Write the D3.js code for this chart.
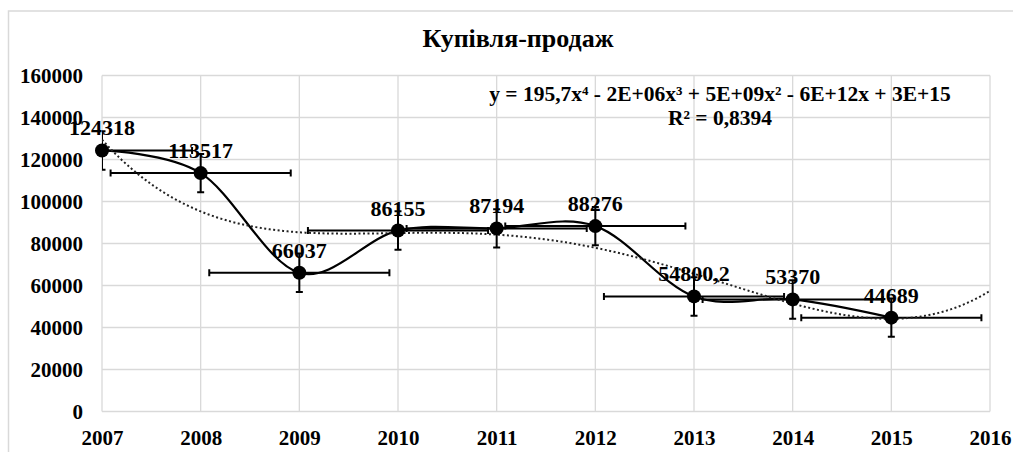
<!DOCTYPE html>
<html>
<head>
<meta charset="utf-8">
<script src="https://cdn.jsdelivr.net/npm/d3@7"></script>
<style>
  body { margin: 0; background: #fff; }
</style>
</head>
<body>
<svg id="chart" width="1013" height="452"></svg>
<script>
// дані з діаграми
const years = [2007, 2008, 2009, 2010, 2011, 2012, 2013, 2014, 2015];
const sales = [124318, 113517, 66037, 86155, 87194, 88276, 54800.2, 53370, 44689];
const pointLabels = ["124318", "113517", "66037", "86155", "87194", "88276", "54800,2", "53370", "44689"];
const yTicks = [0, 20000, 40000, 60000, 80000, 100000, 120000, 140000, 160000];
const xTicks = [2007, 2008, 2009, 2010, 2011, 2012, 2013, 2014, 2015, 2016];
const title = "Купівля-продаж";
const equation = "y = 195,7x⁴ - 2E+06x³ + 5E+09x² - 6E+12x + 3E+15";
const rSquared = "R² = 0,8394";

const serif = "'Liberation Serif', 'Times New Roman', serif";

const svg = d3.select("#chart");
const plot = { left: 102, right: 990, top: 75.5, bottom: 411.5 };

const x = d3.scaleLinear().domain([2007, 2016]).range([plot.left, plot.right]);
const y = d3.scaleLinear().domain([0, 160000]).range([plot.bottom, plot.top]);

// рамка діаграми
svg.append("rect")
  .attr("x", 8.5).attr("y", 11)
  .attr("width", 1030).attr("height", 460)
  .attr("fill", "none").attr("stroke", "#d9d9d9").attr("stroke-width", 1.5);

svg.append("defs").append("clipPath").attr("id", "clip")
  .append("rect")
  .attr("x", plot.left).attr("y", plot.top)
  .attr("width", plot.right - plot.left).attr("height", plot.bottom - plot.top);

// сітка
const grid = svg.append("g");
grid.selectAll(".hg").data(yTicks).join("line")
  .attr("x1", plot.left).attr("x2", plot.right)
  .attr("y1", d => y(d)).attr("y2", d => y(d))
  .attr("stroke", "#d9d9d9").attr("stroke-width", 1.3);
grid.selectAll(".vg").data(xTicks).join("line")
  .attr("x1", d => x(d)).attr("x2", d => x(d))
  .attr("y1", plot.top).attr("y2", plot.bottom)
  .attr("stroke", "#d9d9d9").attr("stroke-width", 1.3);

// осі
const yAxis = svg.append("g")
  .attr("transform", `translate(${plot.left},0)`)
  .call(d3.axisLeft(y).tickValues(yTicks).tickSize(0).tickPadding(19).tickFormat(d3.format("d")));
yAxis.select(".domain").remove();
yAxis.attr("font-family", serif).attr("font-size", 21).attr("font-weight", "bold");
yAxis.selectAll("text").attr("fill", "#000");

const xAxis = svg.append("g")
  .attr("transform", `translate(0,${plot.bottom})`)
  .call(d3.axisBottom(x).tickValues(xTicks).tickSize(0).tickPadding(19).tickFormat(d3.format("d")));
xAxis.select(".domain").remove();
xAxis.attr("font-family", serif).attr("font-size", 21).attr("font-weight", "bold");
xAxis.selectAll("text").attr("fill", "#000");

// стандартні похибки (як у Excel "Standard Error")
const seY = d3.deviation(sales) / Math.sqrt(sales.length);
const seX = d3.deviation(years) / Math.sqrt(years.length);

// поліноміальний тренд 4-го степеня
function polyFit(xs, ys, deg) {
  const n = deg + 1;
  const A = [];
  for (let i = 0; i < n; i++) {
    A.push([]);
    for (let j = 0; j < n; j++) A[i].push(d3.sum(xs, v => Math.pow(v, i + j)));
    A[i].push(d3.sum(xs, (v, k) => ys[k] * Math.pow(v, i)));
  }
  for (let c = 0; c < n; c++) {
    let p = c;
    for (let r = c + 1; r < n; r++) if (Math.abs(A[r][c]) > Math.abs(A[p][c])) p = r;
    [A[c], A[p]] = [A[p], A[c]];
    for (let r = 0; r < n; r++) {
      if (r === c) continue;
      const f = A[r][c] / A[c][c];
      for (let k = c; k <= n; k++) A[r][k] -= f * A[c][k];
    }
  }
  return A.map((row, i) => row[n] / row[i]);
}
const x0 = 2011;
const coef = polyFit(years.map(v => v - x0), sales, 4);
const trendX = d3.range(2007, 2016.001, 0.02);
const trendPts = trendX.map(v => [v, coef.reduce((s, c, i) => s + c * Math.pow(v - x0, i), 0)]);

const layer = svg.append("g").attr("clip-path", "url(#clip)");

// планки похибок
const pts = years.map((yr, i) => ({ yr, v: sales[i], label: pointLabels[i] }));
const eb = layer.append("g").attr("stroke", "#000").attr("stroke-width", 2);
const cap = 3.5;
pts.forEach(d => {
  const cx = x(d.yr), cy = y(d.v);
  const xl = x(d.yr - seX), xr = x(d.yr + seX);
  const yt = y(d.v + seY), yb = y(d.v - seY);
  eb.append("line").attr("x1", xl).attr("x2", xr).attr("y1", cy).attr("y2", cy);
  eb.append("line").attr("x1", xl).attr("x2", xl).attr("y1", cy - cap).attr("y2", cy + cap);
  eb.append("line").attr("x1", xr).attr("x2", xr).attr("y1", cy - cap).attr("y2", cy + cap);
  eb.append("line").attr("x1", cx).attr("x2", cx).attr("y1", yt).attr("y2", yb);
  eb.append("line").attr("x1", cx - cap).attr("x2", cx + cap).attr("y1", yt).attr("y2", yt);
  eb.append("line").attr("x1", cx - cap).attr("x2", cx + cap).attr("y1", yb).attr("y2", yb);
});

// згладжена лінія ряду
const line = d3.line()
  .x(d => x(d.yr)).y(d => y(d.v))
  .curve(d3.curveCardinal.tension(0));
layer.append("path")
  .datum(pts)
  .attr("d", line)
  .attr("fill", "none").attr("stroke", "#000").attr("stroke-width", 2.2);

// лінія тренду
layer.append("path")
  .datum(trendPts)
  .attr("d", d3.line().x(d => x(d[0])).y(d => y(d[1])))
  .attr("fill", "none").attr("stroke", "#222").attr("stroke-width", 2)
  .attr("stroke-dasharray", "2,2.5");

// маркери
svg.append("g").selectAll("circle").data(pts).join("circle")
  .attr("cx", d => x(d.yr)).attr("cy", d => y(d.v)).attr("r", 7)
  .attr("fill", "#000");

const txt = svg.append("g")
  .attr("font-family", serif).attr("font-weight", "bold").attr("fill", "#000");

// підписи значень
txt.append("g").selectAll("text").data(pts).join("text")
  .attr("x", d => x(d.yr)).attr("y", d => y(d.v) - 15)
  .attr("text-anchor", "middle")
  .attr("font-size", 22)
  .text(d => d.label);

// заголовок
txt.append("text")
  .attr("x", 518).attr("y", 47)
  .attr("text-anchor", "middle")
  .attr("font-size", 26)
  .text(title);

// рівняння тренду
txt.append("text")
  .attr("x", 720).attr("y", 101)
  .attr("text-anchor", "middle")
  .attr("font-size", 21.5)
  .text(equation);
txt.append("text")
  .attr("x", 720).attr("y", 125)
  .attr("text-anchor", "middle")
  .attr("font-size", 21.5)
  .text(rSquared);
</script>
</body>
</html>
